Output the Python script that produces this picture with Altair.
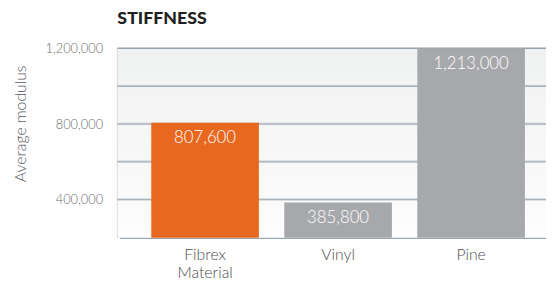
import altair as alt
import pandas as pd

categories = ["Fibrex Material", "Vinyl", "Pine"]
values = [807600, 385800, 1213000]
bar_colors = ["#E8681F", "#A7A8AB", "#A7A8AB"]
label_texts = ["807,600", "385,800", "1,213,000"]
y_ticks = [400000, 800000, 1200000]
grid_values = [400000, 600000, 800000, 1000000, 1200000]
y_min, y_max = 200000, 1200000

df = pd.DataFrame({"cat": categories, "value": values, "color": bar_colors, "label": label_texts})
grid_df = pd.DataFrame({"g": grid_values})
one_df = pd.DataFrame({"a": [0]})

W, H = 435, 192
FONT = "Lato"

yscale = alt.Scale(domain=[y_min, y_max], clamp=True, zero=False, nice=False)
xscale = alt.Scale(domain=categories, range=[2, 446], paddingInner=0.191, paddingOuter=0.24)

y_axis = alt.Axis(
    values=y_ticks, labelExpr="format(datum.value, ',')", grid=False, ticks=False, domain=True,
    domainColor="#BDBDBD", domainWidth=2,
    labelFont=FONT, labelFontSize=13, labelFontWeight=300, labelColor="#6D6E71", labelPadding=15,
    title="Average modulus", titleFont=FONT, titleFontSize=16, titleFontWeight=300,
    titleColor="#58595B", titleAngle=270, titleX=-98, titleY=76,
    titleAlign="center", titleBaseline="middle",
)
x_axis = alt.Axis(
    title=None, labelAngle=0, ticks=False, domainColor="#9AA6AF", domainWidth=2,
    labelFont=FONT, labelFontSize=16, labelFontWeight=300, labelColor="#4D4D4F", labelPadding=9,
    labelLineHeight=18, labelExpr="split(datum.label, ' ')",
)

bg = alt.Chart(one_df).mark_rect(
    color=alt.Gradient(
        gradient="linear",
        stops=[alt.GradientStop(color="#F0F1F1", offset=0), alt.GradientStop(color="#FDFDFD", offset=1)],
        x1=0, x2=0, y1=0, y2=1,
    )
).encode(x=alt.value(0), x2=alt.value(W), y=alt.value(0), y2=alt.value(H))

grid_light = alt.Chart(grid_df).mark_rule(color="#C9CED2", strokeWidth=1, yOffset=-1).encode(
    y=alt.Y("g:Q", scale=yscale, axis=y_axis)
)
grid_dark = alt.Chart(grid_df).mark_rule(color="#8E9BA6", strokeWidth=1).encode(
    y=alt.Y("g:Q", scale=yscale, axis=y_axis)
)

bars = alt.Chart(df).mark_bar().encode(
    x=alt.X("cat:N", scale=xscale, sort=categories, axis=x_axis),
    y=alt.Y("value:Q", scale=yscale, axis=y_axis),
    y2=alt.datum(y_min),
    color=alt.Color("color:N", scale=None),
)

text = alt.Chart(df).mark_text(baseline="top", dy=8, color="white", fontSize=17, fontWeight=300, font=FONT).encode(
    x=alt.X("cat:N", scale=xscale, sort=categories, axis=x_axis),
    y=alt.Y("value:Q", scale=yscale, axis=y_axis),
    text="label:N",
)

chart = alt.layer(bg, grid_light, grid_dark, bars, text).properties(
    width=W, height=H,
    title=alt.TitleParams("STIFFNESS", anchor="start", frame="group", font=FONT, fontSize=18,
                          fontWeight=900, color="#231F20", offset=15),
    padding={"left": 111, "top": 39, "right": 0, "bottom": 45},
    autosize=alt.AutoSizeParams(type="none"),
).configure_view(stroke=None)

chart.save("out.html", embed_options={"renderer": "svg", "actions": False})
